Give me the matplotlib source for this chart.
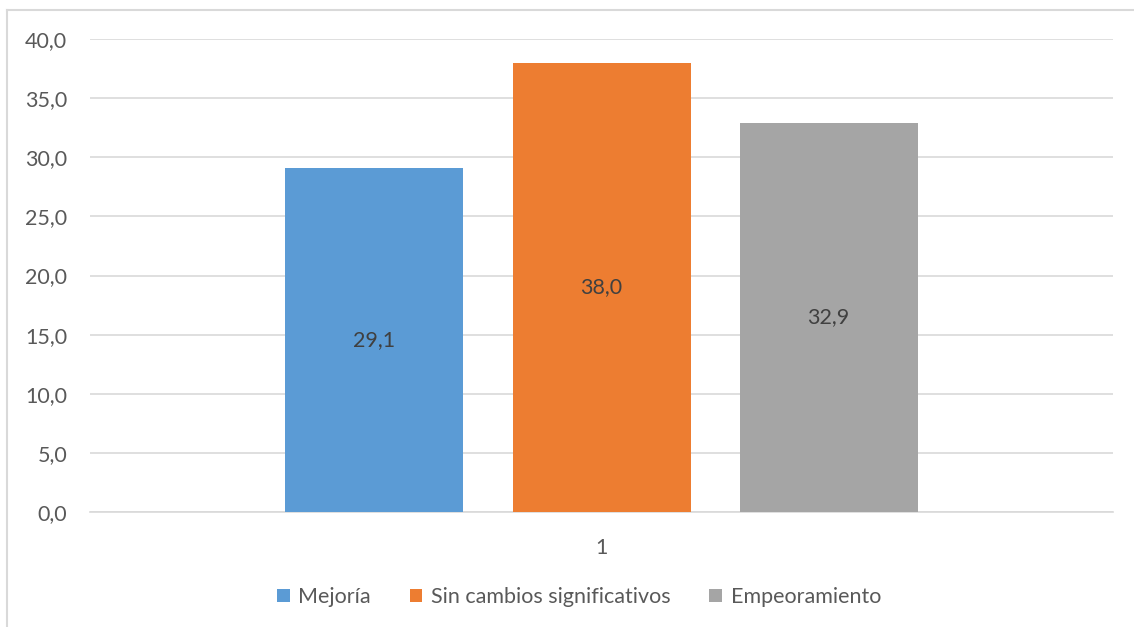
import matplotlib.pyplot as plt
from matplotlib.lines import Line2D

categories = ["Mejoría", "Sin cambios significativos", "Empeoramiento"]
values = [29.1, 38.0, 32.9]
colors = ["#5B9BD5", "#ED7D31", "#A5A5A5"]
offsets = [-0.222, 0.0, 0.222]

plt.rcParams['font.family'] = ['Lato', 'DejaVu Sans']
text_color = "#595959"

fig = plt.figure(figsize=(11.34, 6.27), dpi=100)
ax = fig.add_axes([0.0794, 0.1834, 0.9021, 0.7544])

for name, val, col, off in zip(categories, values, colors, offsets):
    ax.bar(off, val, width=0.174, color=col, label=name, zorder=3)
    ax.text(off, val / 2, f"{val:.1f}".replace(".", ","), ha="center", va="center",
            fontsize=15.5, color="#404040", zorder=4)

ax.set_xlim(-0.5, 0.5)
ax.set_ylim(0, 40)
ax.set_yticks(range(0, 41, 5))
ax.set_yticklabels([f"{v:.1f}".replace(".", ",") for v in range(0, 41, 5)])
ax.set_xticks([0])
ax.set_xticklabels(["1"])
ax.tick_params(length=0, labelsize=15.5, labelcolor=text_color)
ax.tick_params(axis="y", pad=16.5)
ax.tick_params(axis="x", pad=18.5)
ax.grid(axis="y", color="#D9D9D9", linewidth=1.2, zorder=0)
for s in ["top", "right", "left"]:
    ax.spines[s].set_visible(False)
ax.spines["bottom"].set_color("#D9D9D9")
ax.spines["bottom"].set_linewidth(1.2)

ax.legend(loc="center", bbox_to_anchor=(0.478, -0.18), ncol=3, frameon=False,
          fontsize=15.5, labelcolor=text_color, handlelength=0.6, handleheight=0.6,
          handletextpad=0.4, columnspacing=1.8)

# outer chart border (left and top visible)
fig.add_artist(Line2D([7 / 1134, 7 / 1134], [0, 1 - 10 / 627], transform=fig.transFigure,
                      color="#D9D9D9", linewidth=1.5))
fig.add_artist(Line2D([7 / 1134, 1], [1 - 10 / 627, 1 - 10 / 627], transform=fig.transFigure,
                      color="#D9D9D9", linewidth=1.5))

fig.savefig("out.png", dpi=100)
